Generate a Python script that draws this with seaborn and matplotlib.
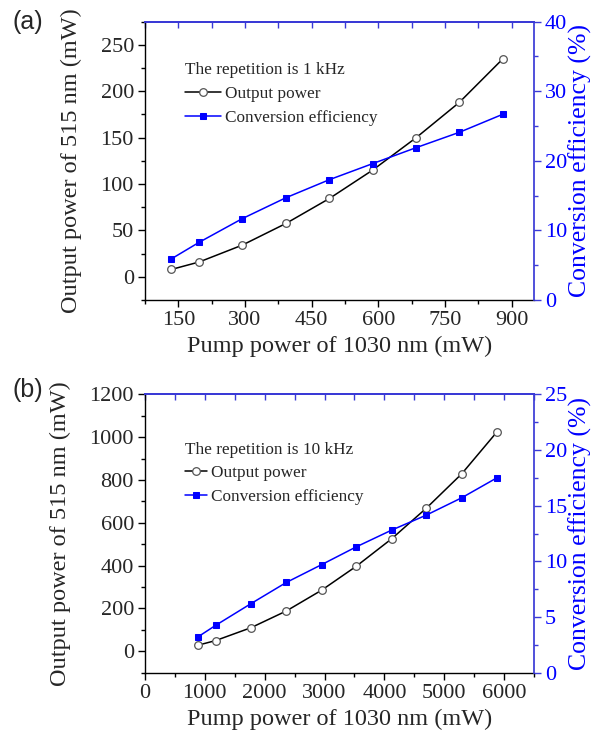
import numpy as np
import pandas as pd
import matplotlib
matplotlib.use("Agg")
import matplotlib.pyplot as plt
import seaborn as sns
from matplotlib.ticker import MultipleLocator

# ---- data ----
pump_a = [134, 197, 294, 392, 490, 587, 685, 782, 880]
out_a = [7.9, 16.0, 34.2, 57.5, 84.5, 115, 150, 188, 235]
eff_a = [5.9, 8.3, 11.7, 14.7, 17.3, 19.6, 21.9, 24.1, 26.7]

pump_b = [880, 1180, 1770, 2360, 2950, 3530, 4120, 4700, 5290, 5880]
out_b = [28, 50, 110, 188, 285, 397, 525, 668, 828, 1024]
eff_b = [3.2, 4.25, 6.2, 8.1, 9.7, 11.3, 12.8, 14.15, 15.7, 17.5]

xticks_a = [150, 300, 450, 600, 750, 900]
yticks_a = [0, 50, 100, 150, 200, 250]
rticks_a = [0, 10, 20, 30, 40]
xticks_b = [0, 1000, 2000, 3000, 4000, 5000, 6000]
yticks_b = [0, 200, 400, 600, 800, 1000, 1200]
rticks_b = [0, 5, 10, 15, 20, 25]

sns.set_theme(style="ticks")
plt.rcParams["font.family"] = ["Liberation Serif", "DejaVu Serif"]

W, H = 593, 737
fig = plt.figure(figsize=(W / 100, H / 100), dpi=100)

BLUE = "#0000ff"
SPINE_BLUE = "#3a3ad6"
TICK_FS = 16
LAB_FS = 17.5
RLAB_FS = 18.5
LEG_FS = 12.4


def frac_rect(l, r, t, b):
    return [l / W, 1 - b / H, (r - l) / W, (b - t) / H]


def panel(rect, pump, out, eff, xlim, ylim, rlim, xt, yt, rt, xminor, yminor, rminor,
          title, handlelen, leg_y, tag, tag_y):
    ax = fig.add_axes(rect)
    df = pd.DataFrame({"pump": pump, "out": out, "eff": eff})
    sns.lineplot(data=df, x="pump", y="out", ax=ax, color="black", lw=1.1,
                 marker="o", markersize=5.5, markerfacecolor="white",
                 markeredgecolor="#555555", markeredgewidth=0.9,
                 label="Output power", legend=False)
    ax2 = ax.twinx()
    sns.lineplot(data=df, x="pump", y="eff", ax=ax2, color=BLUE, lw=1.1,
                 marker="s", markersize=5, markerfacecolor=BLUE,
                 markeredgecolor=BLUE, label="Conversion efficiency", legend=False)
    ax.set_xlim(*xlim)
    ax.set_ylim(*ylim)
    ax2.set_ylim(*rlim)
    ax.set_xticks(xt)
    ax.set_yticks(yt)
    ax2.set_yticks(rt)
    ax.xaxis.set_minor_locator(MultipleLocator(xminor))
    ax.yaxis.set_minor_locator(MultipleLocator(yminor))
    ax2.yaxis.set_minor_locator(MultipleLocator(rminor))
    ax.tick_params(axis="both", which="major", direction="out", length=5, width=1,
                   labelsize=TICK_FS, color="black", pad=3)
    ax.tick_params(axis="both", which="minor", direction="out", length=3, width=1,
                   color="black")
    ax2.tick_params(axis="y", which="major", direction="out", length=5, width=1,
                    labelsize=TICK_FS, labelcolor=BLUE, color=SPINE_BLUE, pad=3)
    ax2.tick_params(axis="y", which="minor", direction="out", length=3, width=1,
                    color=SPINE_BLUE)
    # top ticks (inward)
    sec = ax.secondary_xaxis("top")
    sec.set_xticks(xt)
    sec.xaxis.set_minor_locator(MultipleLocator(xminor))
    sec.tick_params(axis="x", which="both", direction="in", length=4, width=1,
                    labeltop=False, color=SPINE_BLUE)
    sec.spines["top"].set_color(SPINE_BLUE)
    for s in ["left", "bottom"]:
        ax.spines[s].set_color("black")
        ax.spines[s].set_linewidth(1)
    ax2.spines["right"].set_color(SPINE_BLUE)
    ax2.spines["top"].set_color(SPINE_BLUE)
    ax.spines["top"].set_color(SPINE_BLUE)
    ax.spines["right"].set_visible(False)
    ax2.spines["left"].set_visible(False)
    ax2.spines["bottom"].set_visible(False)
    ax.set_xlabel("Pump power of 1030 nm (mW)", fontsize=LAB_FS, labelpad=4)
    ax.set_ylabel("Output power of 515 nm (mW)", fontsize=LAB_FS, labelpad=13)
    ax2.set_ylabel("Conversion efficiency (%)", fontsize=RLAB_FS, color=BLUE, labelpad=1)

    h1, l1 = ax.get_legend_handles_labels()
    h2, l2 = ax2.get_legend_handles_labels()
    ax2.legend(h1 + h2, l1 + l2, title=title, frameon=False, loc="upper left",
               bbox_to_anchor=(0.085, leg_y), fontsize=LEG_FS,
               title_fontsize=LEG_FS, handlelength=handlelen,
               handletextpad=0.2, labelspacing=0.45, borderaxespad=0,
               alignment="left")
    fig.text(12 / W, 1 - tag_y / H, tag, fontsize=18,
             family=["Liberation Sans", "DejaVu Sans"], ha="left", va="center")
    return ax, ax2


panel(frac_rect(145, 534, 21.7, 300), pump_a, out_a, eff_a,
      (75, 950), (-25, 275), (0, 40), xticks_a, yticks_a, rticks_a, 75, 25, 5,
      "The repetition is 1 kHz", 2.1, 0.88, "(a)", 22)
panel(frac_rect(145, 534, 394.3, 672.7), pump_b, out_b, eff_b,
      (0, 6500), (-100, 1200), (0, 25), xticks_b, yticks_b, rticks_b, 500, 100, 2.5,
      "The repetition is 10 kHz", 1.3, 0.855, "(b)", 390)

fig.savefig("out.png", dpi=100)
